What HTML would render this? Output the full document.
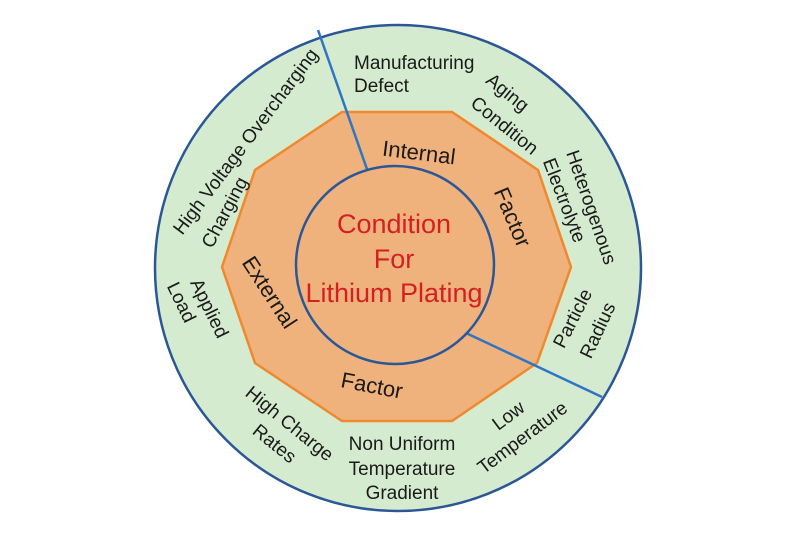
<!DOCTYPE html>
<html><head><meta charset="utf-8"><style>
html,body{margin:0;padding:0;background:#fff;width:801px;height:534px;overflow:hidden}
svg{display:block}
text{font-family:"Liberation Sans",Arial,sans-serif;fill:#1a1a1a}
</style></head><body>
<svg width="801" height="534" viewBox="0 0 801 534">
<circle cx="398" cy="268" r="243" fill="#d5ebcf" stroke="#2b5797" stroke-width="2.5"/>
<polygon points="342,112 452,112 538,170 571,267 537,363 452,421 342,421 255,363 222,267 255,170" fill="#efb27d" stroke="#f0882e" stroke-width="2.5"/>
<line x1="318" y1="30" x2="368" y2="172" stroke="#2e75c4" stroke-width="2.5"/>
<line x1="466" y1="333" x2="602" y2="397" stroke="#2e75c4" stroke-width="2.5"/>
<circle cx="395" cy="265" r="99" fill="#efb27d" stroke="#2b5797" stroke-width="2.5"/>
<g text-anchor="middle" font-size="27">
<text x="394" y="233" style="fill:#d42020">Condition</text>
<text x="394" y="268" style="fill:#d42020">For</text>
<text x="394" y="302" style="fill:#d42020">Lithium Plating</text>
</g>
<g text-anchor="middle" font-size="22">
<text transform="translate(419,152) rotate(7)" dy="8">Internal</text>
<text transform="translate(513,217) rotate(67)" dy="8">Factor</text>
<text transform="translate(270,292) rotate(57)" dy="8">External</text>
<text transform="translate(372,385) rotate(11)" dy="8">Factor</text>
</g>
<g font-size="19" text-anchor="middle">
<text x="354" y="69" text-anchor="start">Manufacturing</text>
<text x="354" y="92" text-anchor="start">Defect</text>
<text transform="translate(508,92) rotate(39)" dy="7">Aging</text>
<text transform="translate(505,125) rotate(39)" dy="7">Condition</text>
<text transform="translate(592,207) rotate(71)" dy="7">Heterogenous</text>
<text transform="translate(565,200) rotate(69)" dy="7">Electrolyte</text>
<text transform="translate(572,318) rotate(-63)" dy="7">Particle</text>
<text transform="translate(597,330) rotate(-65)" dy="7">Radius</text>
<text transform="translate(508,415) rotate(-37)" dy="7">Low</text>
<text transform="translate(522,437) rotate(-37)" dy="7">Temperature</text>
<text x="402" y="450">Non Uniform</text>
<text x="402" y="475">Temperature</text>
<text x="402" y="499">Gradient</text>
<text transform="translate(290,423) rotate(39)" dy="7">High Charge</text>
<text transform="translate(275,443) rotate(39)" dy="7">Rates</text>
<text transform="translate(210,308) rotate(64)" dy="7">Applied</text>
<text transform="translate(182,302) rotate(64)" dy="7">Load</text>
<text transform="translate(245,141) rotate(-53)" dy="7">High Voltage Overcharging</text>
<text transform="translate(224,212) rotate(-62)" dy="7">Charging</text>
</g>
</svg>
</body></html>
